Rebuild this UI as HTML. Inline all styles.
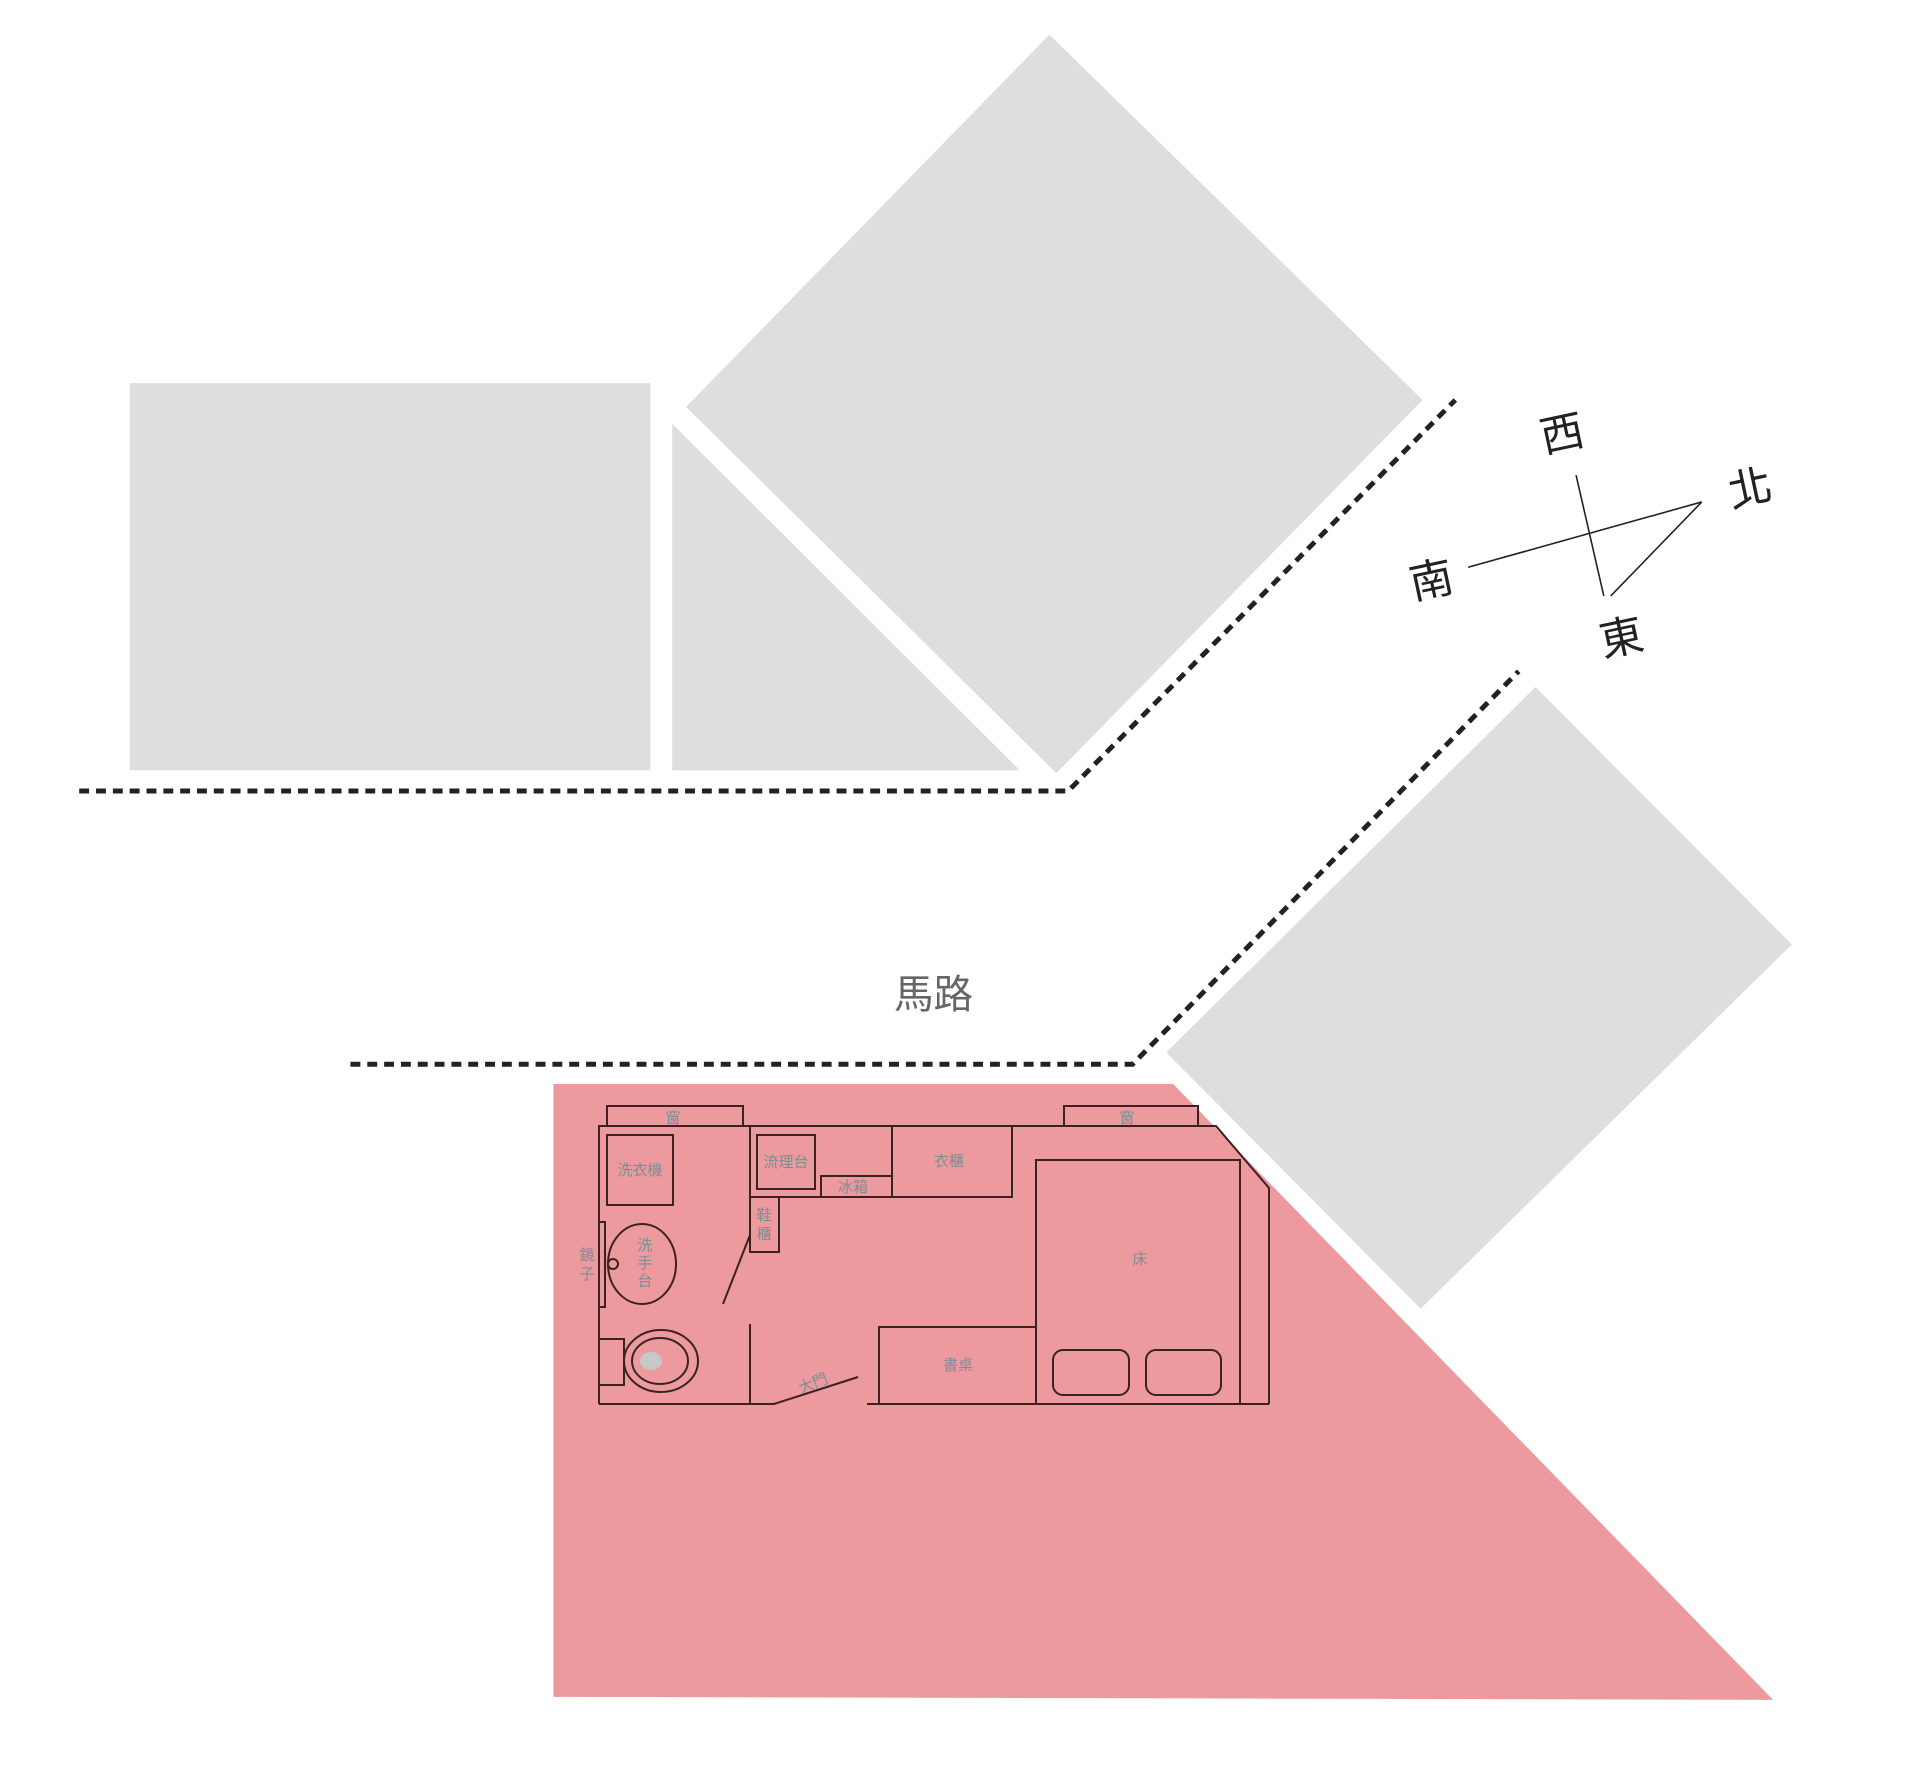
<!DOCTYPE html>
<html><head><meta charset="utf-8"><style>
html,body{margin:0;padding:0;background:#fff;}
svg{display:block;}
text{font-family:"Liberation Sans","Noto Sans CJK TC",sans-serif;}
</style></head><body>
<svg width="1920" height="1767" viewBox="0 0 1920 1767" xmlns="http://www.w3.org/2000/svg">
<rect width="1920" height="1767" fill="#fff"/>
<g transform="scale(0.99)">
<g fill="#dededd">
<rect x="131" y="387" width="526" height="391"/>
<polygon points="679,428 679,778 1030,778"/>
<polygon points="1060,35 1437,404 1067,781 693,411"/>
<polygon points="1551,694 1810,954 1435,1322 1178,1063"/>
</g>
<polygon points="559,1095 1185,1095 1791,1717 559,1714" fill="#ec9a9e"/>
<g fill="none" stroke="#222" stroke-width="5" stroke-dasharray="10 7">
<polyline points="80,799 1079,799 1470,404"/>
<polyline points="354,1075 1144,1075 1534,678"/>
</g>
<text x="943" y="1018" font-size="40" fill="#666" text-anchor="middle">馬路</text>
<g stroke="#222" stroke-width="1.6" fill="none">
<line x1="1592" y1="480" x2="1620" y2="602"/>
<line x1="1483" y1="573" x2="1719" y2="507"/>
<line x1="1719" y1="507" x2="1627" y2="602"/>
</g>
<g font-size="44" fill="#222" text-anchor="middle">
<text transform="translate(1581,453) rotate(-12)">西</text>
<text transform="translate(1771,508) rotate(-12)">北</text>
<text transform="translate(1449,601) rotate(-12)">南</text>
<text transform="translate(1641,659) rotate(-12)">東</text>
</g>
</g>
<g transform="translate(0,-12)">
<g stroke="#3a2222" stroke-width="2" fill="none">
<polyline points="599,1416 599,1138 1216,1138 1269,1200 1269,1416"/>
<line x1="1240" y1="1172" x2="1240" y2="1416"/>
<rect x="607" y="1118" width="136" height="20"/>
<rect x="1064" y="1118" width="134" height="20"/>
<rect x="607" y="1147" width="66" height="70"/>
<rect x="750" y="1138" width="262" height="71"/>
<line x1="892" y1="1138" x2="892" y2="1209"/>
<rect x="757" y="1147" width="58" height="54"/>
<rect x="821" y="1188" width="71" height="21"/>
<rect x="750" y="1209" width="29" height="55"/>
<line x1="750" y1="1336" x2="750" y2="1416"/>
<line x1="750" y1="1247" x2="723" y2="1316"/>
<rect x="599" y="1234" width="6" height="85"/>
<ellipse cx="642" cy="1276" rx="34" ry="40"/>
<circle cx="613" cy="1276" r="5"/>
<ellipse cx="661" cy="1373" rx="37" ry="31"/>
<rect x="599" y="1351" width="25" height="46" fill="#ec9a9e"/>
<ellipse cx="660" cy="1373" rx="28" ry="23"/>
<polyline points="599,1416 774,1416 858,1389"/>
<line x1="867" y1="1416" x2="1269" y2="1416"/>
<rect x="879" y="1339" width="157" height="77"/>
<rect x="1036" y="1172" width="204" height="244"/>
<rect x="1053" y="1362" width="76" height="45" rx="10"/>
<rect x="1146" y="1362" width="75" height="45" rx="10"/>
</g>
<ellipse cx="651" cy="1373" rx="11" ry="9" fill="#c8c8c8"/>
<g font-size="15" fill="#7d8c96" text-anchor="middle">
<text x="673" y="1135">窗</text>
<text x="1127" y="1135">窗</text>
<text x="640" y="1187">洗衣機</text>
<text x="786" y="1179">流理台</text>
<text x="853" y="1204">冰箱</text>
<text x="949" y="1178">衣櫃</text>
<text x="764" y="1232">鞋</text>
<text x="764" y="1251">櫃</text>
<text x="645" y="1262">洗</text>
<text x="645" y="1280">手</text>
<text x="645" y="1298">台</text>
<text x="587" y="1272">鏡</text>
<text x="587" y="1291">子</text>
<text x="1140" y="1276">床</text>
<text x="958" y="1382">書桌</text>
<text transform="translate(815,1400) rotate(-22)">大門</text>
</g>
</g>
</svg>
</body></html>
